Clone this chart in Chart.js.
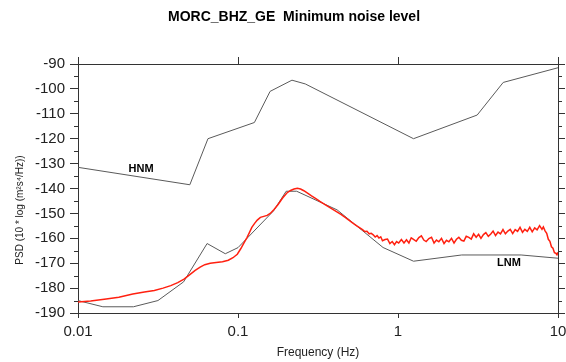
<!DOCTYPE html>
<html>
<head>
<meta charset="utf-8">
<script src="https://cdn.jsdelivr.net/npm/chart.js@4.4.1/dist/chart.umd.min.js"></script>
<style>
  html, body { margin: 0; padding: 0; background: #fff; }
  #wrap { width: 566px; height: 362px; }
</style>
</head>
<body>
<div id="wrap"><canvas id="c" width="566" height="362"></canvas></div>
<script>
// ---- Data ----
const titleText = "MORC_BHZ_GE  Minimum noise level";
const xTickValues = [0.01, 0.1, 1, 10];
const xTickLabels = ["0.01", "0.1", "1", "10"];
const yMin = -190, yMax = -90;

// Peterson high noise model
const hnmFreq = [0.01, 0.05, 0.0649, 0.1266, 0.1587, 0.2174, 0.2632, 1.25, 3.125, 4.545, 10];
const hnmPsd  = [-131.5, -138.5, -120.0, -113.5, -101.0, -96.5, -98.0, -120.0, -110.5, -97.4, -91.5];

// Peterson low noise model
const lnmFreq = [0.01, 0.0143, 0.0222, 0.0316, 0.0457, 0.0641, 0.0833, 0.1, 0.1667, 0.2, 0.2326, 0.4167, 0.8065, 1.25, 2.5, 5.882, 10];
const lnmPsd  = [-185.0, -187.5, -187.5, -185.0, -177.5, -162.1, -166.2, -163.75, -149.0, -141.1, -141.1, -148.6, -163.7, -169.2, -166.7, -166.7, -168.0];

// Station minimum noise level (red)
const staFreq = [
  0.01, 0.012, 0.015, 0.018, 0.022, 0.026, 0.03, 0.034, 0.038, 0.042, 0.046, 0.05, 0.054, 0.058, 0.062, 0.067,
  0.073, 0.08, 0.087, 0.093, 0.099, 0.104, 0.109, 0.114, 0.118, 0.122, 0.127, 0.132, 0.138, 0.145, 0.152, 0.159,
  0.168, 0.178, 0.19, 0.202, 0.213, 0.224, 0.235, 0.246, 0.258, 0.272, 0.288, 0.305, 0.325, 0.35, 0.38, 0.41,
  0.44, 0.47, 0.5, 0.53, 0.565,
  0.60, 0.62, 0.64, 0.66, 0.68, 0.70, 0.72, 0.74, 0.76, 0.78, 0.80, 0.83, 0.86, 0.89, 0.92, 0.95, 0.98, 1.01,
  1.05, 1.09, 1.13, 1.17, 1.21, 1.25, 1.30, 1.35, 1.40, 1.45, 1.50, 1.56, 1.62, 1.68, 1.74, 1.80, 1.87, 1.94,
  2.01, 2.08, 2.16, 2.24, 2.32, 2.40, 2.49, 2.58, 2.67, 2.77, 2.87, 2.97, 3.08, 3.19, 3.30, 3.42, 3.54, 3.67,
  3.80, 3.93, 4.07, 4.22, 4.37, 4.53, 4.69, 4.86, 5.03, 5.21, 5.40, 5.59, 5.79, 6.00, 6.21, 6.43, 6.66, 6.90,
  7.15, 7.40, 7.67, 7.94, 8.10, 8.30, 8.50, 8.70, 8.90, 9.10, 9.30, 9.50, 9.70, 9.85, 10.0
];
const staPsd = [
  -185.6, -185.2, -184.4, -183.7, -182.4, -181.6, -181.0, -180.0, -179.0, -177.8, -176.4, -174.6, -172.9, -171.6, -170.6, -170.0,
  -169.7, -169.4, -168.8, -167.8, -166.4, -164.2, -161.8, -159.6, -157.6, -155.6, -154.0, -152.7, -151.6, -151.2, -150.8, -150.0,
  -148.4, -146.4, -143.8, -141.8, -140.8, -140.2, -139.9, -140.2, -140.9, -141.9, -143.0, -144.0, -145.2, -146.5, -147.9, -149.2,
  -150.4, -151.7, -153.0, -154.2, -155.4,
  -156.5, -157.3, -157.2, -158.2, -158.0, -158.6, -159.5, -158.9, -159.9, -159.4, -161.0, -160.5, -160.3, -162.1, -161.3, -162.6, -161.3, -161.9,
  -160.5, -161.9, -160.6, -161.9, -159.8, -160.4, -161.2, -159.7, -159.0, -160.7, -161.3, -160.1, -159.6, -161.9, -160.7, -161.4, -160.0, -162.1,
  -160.8, -161.4, -160.0, -161.9, -160.4, -159.6, -160.8, -161.1, -159.2, -159.6, -160.3, -158.2, -159.6, -158.4, -160.0, -158.5, -157.7, -159.2,
  -158.3, -157.1, -158.9, -157.5, -158.2, -156.5, -158.2, -157.1, -156.4, -158.1, -156.5, -157.2, -155.6, -157.6, -156.4, -157.2, -155.6, -157.4,
  -155.8, -156.6, -154.9, -156.4, -155.4, -157.0, -158.0, -160.4, -161.2, -163.4, -164.0, -165.8, -166.0, -166.6, -165.6
];

const hnmLabel = { text: "HNM", f: 0.0248, v: -132.2 };
const lnmLabel = { text: "LNM", f: 4.94, v: -169.9 };

// ---- Helpers ----
const toXY = (fs, vs) => fs.map((f, i) => ({ x: f, y: vs[i] }));
const FONT = "'Liberation Sans', Arial, Helvetica, sans-serif";
const AXIS = "#333";

function zeroPad(s) { s.paddingLeft = 0; s.paddingRight = 0; s.paddingTop = 0; s.paddingBottom = 0; }

const decor = {
  id: "decor",
  afterDraw(chart) {
    const ctx = chart.ctx;
    const { left, right } = chart.chartArea;
    const y = chart.scales.y, x = chart.scales.x;
    // minor y ticks (every 5)
    ctx.save();
    ctx.strokeStyle = AXIS;
    ctx.lineWidth = 1;
    ctx.beginPath();
    for (let v = yMin + 5; v < yMax; v += 10) {
      const py = Math.round(y.getPixelForValue(v)) + 0.5;
      ctx.moveTo(left - 4, py); ctx.lineTo(left, py);
      ctx.moveTo(right, py); ctx.lineTo(right + 4, py);
    }
    ctx.stroke();
    // main title
    ctx.fillStyle = "#000";
    ctx.textAlign = "center";
    ctx.textBaseline = "middle";
    ctx.font = "bold 14px " + FONT;
    ctx.fillText(titleText, 294, 17);
    // y axis title
    ctx.save();
    ctx.translate(20, 210);
    ctx.rotate(-Math.PI / 2);
    ctx.font = "10px " + FONT;
    ctx.fillStyle = "#222";
    ctx.fillText("PSD (10 * log (m²s⁴/Hz))", 0, 0);
    ctx.restore();
    // model labels
    ctx.font = "bold 11px " + FONT;
    ctx.fillStyle = "#000";
    [hnmLabel, lnmLabel].forEach(l => {
      ctx.fillText(l.text, x.getPixelForValue(l.f), y.getPixelForValue(l.v));
    });
    ctx.restore();
  }
};

new Chart(document.getElementById("c"), {
  type: "line",
  data: {
    datasets: [
      { label: "Station", data: toXY(staFreq, staPsd), borderColor: "#ff2010", borderWidth: 1.5, pointRadius: 0, tension: 0 },
      { label: "HNM", data: toXY(hnmFreq, hnmPsd), borderColor: "#5a5a5a", borderWidth: 1, pointRadius: 0, tension: 0 },
      { label: "LNM", data: toXY(lnmFreq, lnmPsd), borderColor: "#5a5a5a", borderWidth: 1, pointRadius: 0, tension: 0 }
    ]
  },
  options: {
    responsive: false,
    animation: false,
    layout: { padding: { top: 56, left: 0, right: 0, bottom: 0 } },
    plugins: { legend: { display: false }, title: { display: false }, tooltip: { enabled: false } },
    scales: {
      x: {
        type: "logarithmic", position: "bottom", min: 0.01, max: 10,
        afterBuildTicks: s => { s.ticks = xTickValues.map(v => ({ value: v })); },
        afterFit: s => { s.height = 49; zeroPad(s); },
        grid: { drawOnChartArea: false, drawTicks: true, tickLength: 5, tickColor: AXIS },
        border: { display: true, color: AXIS, width: 1 },
        ticks: {
          autoSkip: false, maxRotation: 0, padding: 5, color: "#222",
          font: { family: FONT, size: 15 },
          callback: (v) => { const i = xTickValues.indexOf(v); return i >= 0 ? xTickLabels[i] : ""; }
        },
        title: { display: true, text: "Frequency (Hz)", color: "#222", font: { family: FONT, size: 12 }, padding: { top: 0, bottom: 2 } }
      },
      x2: {
        type: "logarithmic", position: "top", min: 0.01, max: 10,
        afterBuildTicks: s => { s.ticks = xTickValues.map(v => ({ value: v })); },
        afterFit: s => { s.height = 8; zeroPad(s); },
        grid: { drawOnChartArea: false, drawTicks: true, tickLength: 7, tickColor: AXIS },
        border: { display: true, color: AXIS, width: 1 },
        ticks: { display: false }
      },
      y: {
        type: "linear", position: "left", min: yMin, max: yMax,
        afterFit: s => { s.width = 78; zeroPad(s); },
        grid: { drawOnChartArea: false, drawTicks: true, tickLength: 8, tickColor: AXIS },
        border: { display: true, color: AXIS, width: 1 },
        ticks: { stepSize: 10, padding: 5, color: "#222", font: { family: FONT, size: 15 } }
      },
      y2: {
        type: "linear", position: "right", min: yMin, max: yMax,
        afterFit: s => { s.width = 8; zeroPad(s); },
        grid: { drawOnChartArea: false, drawTicks: true, tickLength: 7, tickColor: AXIS },
        border: { display: true, color: AXIS, width: 1 },
        ticks: { stepSize: 10, display: false }
      }
    }
  },
  plugins: [decor]
});
</script>
</body>
</html>
